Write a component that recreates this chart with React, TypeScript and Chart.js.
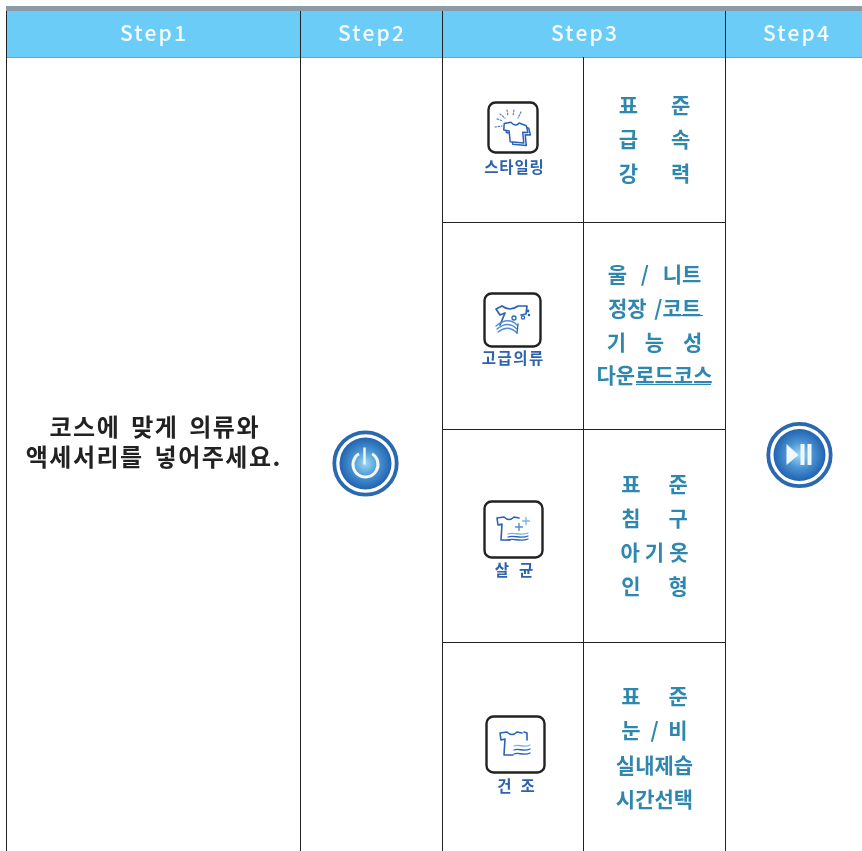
import React, { useEffect, useRef } from "react";
import { Chart, registerables } from "chart.js";

Chart.register(...registerables);

const W = 862;
const H = 851;
const FONT = '"Noto Sans CJK KR", "Noto Sans", sans-serif';

const stepLabels = ["Step1", "Step2", "Step3", "Step4"];
const stepCenters = [153, 371, 584, 796];
const introLines = ["코스에 맞게 의류와", "액세서리를 넣어주세요."];
const modeLabels = ["스타일링", "고급의류", "살균", "건조"];
const courseLines = [
  ["표준", "급속", "강력"],
  ["울 / 니트", "정장 /코트", "기 능 성", "다운로드코스"],
  ["표준", "침구", "아기옷", "인형"],
  ["표준", "눈 / 비", "실내제습", "시간선택"],
];
const courseRows = [
  [105, 139, 173],
  [274, 308, 342, 375],
  [484, 518, 552, 586],
  [696, 730, 765, 799],
];
const courseSpacing = [
  [[33, 0], [33, 0], [33, 0]],
  [[0, 9], [0, 3], [0, 14], [0, 0]],
  [[28, 0], [28, 0], [5, 0], [28, 0]],
  [[28, 0], [0, 5], [0, 0], [0, 0]],
];
const columnEdges = [6.5, 300.5, 442.5, 725.5];
const innerColumn = 583.5;
const rowEdges = [222.5, 429.5, 642.5];
const modeBoxes = [
  [488.5, 102.5, 49, 50],
  [484.5, 293.5, 56, 53],
  [484.5, 501.5, 58, 56],
  [486.5, 716.5, 58, 56],
];

function seg(x1: number, y1: number, x2: number, y2: number) {
  return [{ x: x1, y: y1 }, { x: x2, y: y2 }];
}

const gridSegments = [
  ...columnEdges.map((x) => seg(x, 11, x, H)),
  seg(innerColumn, 57, innerColumn, H),
  ...rowEdges.map((y) => seg(442.5, y, 725.5, y)),
];

function lsText(ctx: any, text: string, x: number, y: number, ls = 0, ws = 0) {
  ctx.letterSpacing = ls + "px";
  ctx.wordSpacing = ws + "px";
  ctx.textAlign = "center";
  ctx.textBaseline = "middle";
  ctx.fillText(text, x + ls / 2, y);
  ctx.letterSpacing = "0px";
  ctx.wordSpacing = "0px";
}

function shirt(ctx: any, cx: number, cy: number, s: number, skew = 0) {
  const p = [
    [-1.0, -0.72], [-0.38, -0.9], [0.38, -0.9], [1.0, -0.72], [1.1, -0.12],
    [0.62, -0.08], [0.62, 0.9], [-0.62, 0.9], [-0.62, -0.08], [-1.1, -0.12],
  ];
  ctx.beginPath();
  p.forEach(([a, b], i) => {
    const X = cx + (a + b * skew) * s;
    const Y = cy + (b + a * skew) * s;
    if (i === 0) ctx.moveTo(X, Y);
    else if (i === 2) ctx.quadraticCurveTo(cx, cy + (-0.45) * s, X, Y);
    else ctx.lineTo(X, Y);
  });
  ctx.closePath();
  ctx.fill();
  ctx.stroke();
}

function wave(ctx: any, x: number, y: number, w: number, a: number) {
  ctx.beginPath();
  ctx.moveTo(x, y);
  ctx.bezierCurveTo(x + w * 0.3, y - a, x + w * 0.6, y + a, x + w, y - a * 0.4);
  ctx.stroke();
}

function plus(ctx: any, x: number, y: number, r: number) {
  ctx.beginPath();
  ctx.moveTo(x - r, y);
  ctx.lineTo(x + r, y);
  ctx.moveTo(x, y - r);
  ctx.lineTo(x, y + r);
  ctx.stroke();
}

function drawIcon(ctx: any, kind: number, px: (v: number) => number, py: (v: number) => number) {
  const dark = "#2a62b4";
  const light = "#7fb4e2";
  ctx.save();
  ctx.lineCap = "round";
  ctx.lineJoin = "round";
  ctx.strokeStyle = dark;
  ctx.fillStyle = "#fff";
  ctx.lineWidth = 1.5;
  if (kind === 0) {
    shirt(ctx, px(518.5), py(135), 11, 0.1);
    shirt(ctx, px(516), py(132.5), 11, 0.1);
    ctx.strokeStyle = "#4a7fc2";
    ctx.lineWidth = 1.2;
    ctx.setLineDash([1.4, 1.8]);
    const rays = [[497, 119, 503, 121], [500, 114, 505, 118], [507, 110, 508, 116], [514, 110, 513, 116], [521, 112, 518, 118], [495, 127, 502, 126]];
    rays.forEach(([a, b, c, d]) => {
      ctx.beginPath();
      ctx.moveTo(px(a), py(b));
      ctx.lineTo(px(c), py(d));
      ctx.stroke();
    });
    ctx.setLineDash([]);
  } else if (kind === 1) {
    ctx.lineWidth = 1.7;
    ctx.beginPath();
    ctx.moveTo(px(502), py(306));
    ctx.quadraticCurveTo(px(510), py(312), px(518), py(306));
    ctx.lineTo(px(527), py(306));
    ctx.lineTo(px(526), py(314));
    ctx.lineTo(px(521), py(315));
    ctx.moveTo(px(502), py(306));
    ctx.lineTo(px(496), py(309));
    ctx.lineTo(px(500), py(315));
    ctx.lineTo(px(505), py(313));
    ctx.lineTo(px(500), py(325));
    ctx.stroke();
    ctx.lineWidth = 1.3;
    ctx.strokeStyle = "#4f8dce";
    [322, 325, 328].forEach((y, i) => {
      ctx.beginPath();
      ctx.moveTo(px(496 + i), py(y + 4));
      ctx.quadraticCurveTo(px(508), py(y - 6 + i), px(517), py(y + 3 + i));
      ctx.stroke();
    });
    ctx.strokeStyle = dark;
    ctx.beginPath();
    ctx.moveTo(px(517), py(333));
    ctx.lineTo(px(518), py(324));
    ctx.stroke();
    [[514, 318, 2], [523, 317.5, 1.6], [528, 311, 0.8], [529, 315, 0.6]].forEach(([x, y, r]) => {
      ctx.beginPath();
      ctx.arc(px(x), py(y), r, 0, Math.PI * 2);
      ctx.stroke();
    });
  } else {
    const base = kind === 2 ? 0 : 1;
    const ox = base ? 500 : 497;
    const oy = base ? 732 : 517;
    ctx.lineWidth = 1.6;
    ctx.beginPath();
    ctx.moveTo(px(ox + 22), py(oy + 1));
    ctx.lineTo(px(ox + 17), py(oy));
    ctx.quadraticCurveTo(px(ox + 12), py(oy + 5), px(ox + 7), py(oy));
    ctx.lineTo(px(ox), py(oy + 1));
    ctx.lineTo(px(ox + 1), py(oy + 8));
    ctx.lineTo(px(ox + 5), py(oy + 7));
    ctx.lineTo(px(ox + 4), py(oy + 23));
    ctx.lineTo(px(ox + 13), py(oy + 23));
    if (base) {
      ctx.moveTo(px(ox + 24), py(oy));
      ctx.lineTo(px(ox + 27), py(oy + 1));
      ctx.lineTo(px(ox + 27), py(oy + 8));
    }
    ctx.stroke();
    const wx = base ? 514 : 508;
    const wys = base ? [746, 750, 754] : [534, 537, 540];
    ctx.lineWidth = 1.3;
    wys.forEach((y, i) => {
      ctx.strokeStyle = i === 0 ? light : dark;
      wave(ctx, px(wx), py(y), base ? 16 : 20, 2.5);
    });
    if (!base) {
      ctx.strokeStyle = light;
      ctx.lineWidth = 1.4;
      plus(ctx, px(526), py(521), 3.5);
      ctx.strokeStyle = "#4f8dce";
      plus(ctx, px(519), py(527), 3.5);
    }
  }
  ctx.restore();
}

function drawButton(ctx: any, cx: number, cy: number, play: boolean) {
  ctx.save();
  ctx.beginPath();
  ctx.arc(cx, cy, 31.2, 0, Math.PI * 2);
  ctx.strokeStyle = "#2a68b0";
  ctx.lineWidth = 3.8;
  ctx.stroke();
  const g = ctx.createRadialGradient(cx, cy, 2, cx, cy, 27);
  g.addColorStop(0, "#8fd0ef");
  g.addColorStop(0.45, "#4a94d2");
  g.addColorStop(1, "#1f5fae");
  ctx.beginPath();
  ctx.arc(cx, cy, 26, 0, Math.PI * 2);
  ctx.fillStyle = g;
  ctx.fill();
  ctx.strokeStyle = "#f2f8fc";
  ctx.fillStyle = "#f2f8fc";
  if (play) {
    ctx.beginPath();
    ctx.moveTo(cx - 13, cy - 11);
    ctx.lineTo(cx - 13, cy + 10);
    ctx.lineTo(cx - 1, cy);
    ctx.closePath();
    ctx.fill();
    ctx.fillRect(cx + 1, cy - 11, 4, 21);
    ctx.fillRect(cx + 8, cy - 11, 4, 21);
  } else {
    ctx.lineWidth = 3;
    ctx.beginPath();
    ctx.arc(cx, cy + 1, 12.5, -Math.PI / 2 + 0.55, -Math.PI / 2 - 0.55 + Math.PI * 2);
    ctx.stroke();
    ctx.lineWidth = 2.4;
    ctx.beginPath();
    ctx.moveTo(cx - 1, cy - 16);
    ctx.lineTo(cx - 1, cy + 1);
    ctx.stroke();
  }
  ctx.restore();
}

const tablePlugin = {
  id: "tablePlugin",
  beforeDatasetsDraw(chart: any) {
    const { ctx, scales } = chart;
    const px = (v: number) => scales.x.getPixelForValue(v);
    const py = (v: number) => scales.y.getPixelForValue(v);
    ctx.save();
    ctx.fillStyle = "#ffffff";
    ctx.fillRect(px(0), py(0), px(W) - px(0), py(H) - py(0));
    ctx.fillStyle = "#8a9ba6";
    ctx.fillRect(px(6), py(6), px(W) - px(6), py(5) - py(0));
    ctx.fillStyle = "#6bcdf7";
    ctx.fillRect(px(6), py(11), px(W) - px(6), py(46) - py(0));
    ctx.fillStyle = "#8a9ba6";
    ctx.fillRect(px(6), py(57), px(W) - px(6), 1);
    ctx.restore();
  },
  afterDatasetsDraw(chart: any) {
    const { ctx, scales } = chart;
    const px = (v: number) => scales.x.getPixelForValue(v);
    const py = (v: number) => scales.y.getPixelForValue(v);
    ctx.save();
    ctx.fillStyle = "#f4fbff";
    ctx.font = `500 21px ${FONT}`;
    stepLabels.forEach((t, i) => lsText(ctx, t, px(stepCenters[i]), py(33), 2.2));

    ctx.fillStyle = "#222222";
    ctx.font = `700 24px ${FONT}`;
    lsText(ctx, introLines[0], px(154), py(427), 1.5, 4);
    lsText(ctx, introLines[1], px(153), py(457), 1.5, 4);

    courseLines.forEach((lines, r) => {
      ctx.fillStyle = "#2f87ae";
      ctx.font = `700 21px ${FONT}`;
      lines.forEach((t, i) => {
        const [ls, ws] = courseSpacing[r][i];
        lsText(ctx, t, px(654.5), py(courseRows[r][i]), ls, ws);
      });
    });
    ctx.strokeStyle = "#2f87ae";
    ctx.lineWidth = 1;
    [[665, 703, 315.5], [636, 711, 384.5]].forEach(([a, b, y]) => {
      ctx.beginPath();
      ctx.moveTo(px(a), py(y));
      ctx.lineTo(px(b), py(y));
      ctx.stroke();
    });

    const labelSpec = [[514, 167, 0.8], [512.5, 358, 1.5], [514, 570, 10], [516, 786, 9]];
    modeLabels.forEach((t, i) => {
      ctx.fillStyle = "#2e62ad";
      ctx.font = `700 15.5px ${FONT}`;
      const [x, y, ls] = labelSpec[i];
      lsText(ctx, t, px(x), py(y), ls);
    });
    ctx.restore();

    modeBoxes.forEach(([x, y, w, h], i) => {
      ctx.save();
      ctx.beginPath();
      ctx.roundRect(px(x), py(y), w, h, 7);
      ctx.strokeStyle = "#222222";
      ctx.lineWidth = 2.4;
      ctx.stroke();
      ctx.restore();
      drawIcon(ctx, i, px, py);
    });

    drawButton(ctx, px(365.5), py(463.5), false);
    drawButton(ctx, px(799.5), py(455), true);
  },
};

export default function App() {
  const ref = useRef<HTMLCanvasElement | null>(null);
  useEffect(() => {
    document.body.style.margin = "0";
    const chart = new Chart(ref.current as HTMLCanvasElement, {
      type: "scatter",
      data: {
        datasets: gridSegments.map((data) => ({
          data,
          showLine: true,
          borderColor: "#222222",
          borderWidth: 1,
          pointRadius: 0,
          clip: false,
        })),
      } as any,
      options: {
        animation: false,
        responsive: false,
        layout: { padding: 0 },
        plugins: { legend: { display: false }, tooltip: { enabled: false } },
        events: [],
        scales: {
          x: { type: "linear", min: 0, max: W, display: false },
          y: { type: "linear", min: 0, max: H, reverse: true, display: false },
        },
      } as any,
      plugins: [tablePlugin],
    });
    return () => chart.destroy();
  }, []);
  return (
    <canvas
      ref={ref}
      width={W}
      height={H}
      style={{ display: "block", width: W, height: H }}
    />
  );
}
